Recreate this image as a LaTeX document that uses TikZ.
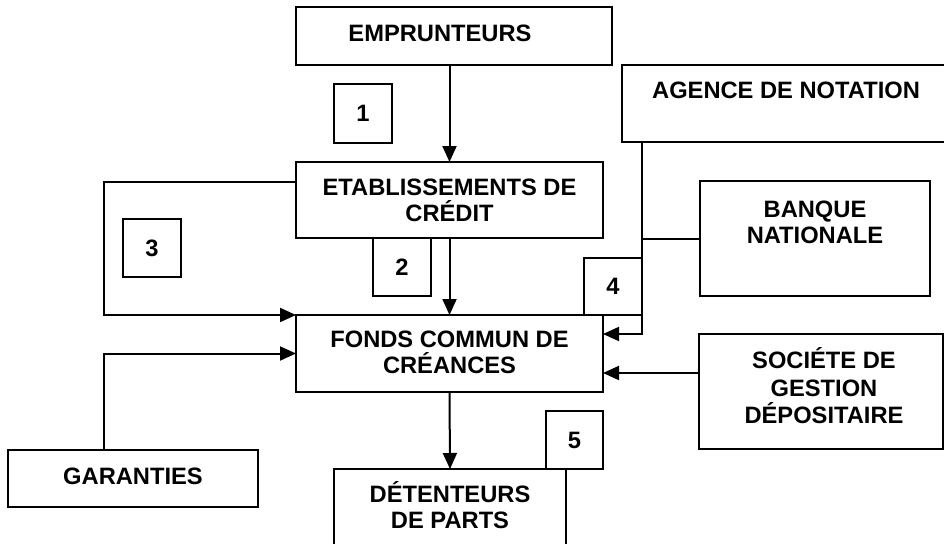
\documentclass[tikz,border=0pt]{standalone}
\usepackage{fontspec}
\setmainfont{Liberation Sans}
\usetikzlibrary{arrows.meta}
\begin{document}
\begin{tikzpicture}[x=1pt,y=-1pt,
  box/.style={draw, line width=2pt, outer sep=0pt, inner sep=0pt, anchor=north west},
  txt/.style={font=\fontsize{23.7}{26}\selectfont\bfseries, align=center, anchor=base, inner sep=0pt},
  num/.style={box, font=\fontsize{23.7}{26}\selectfont\bfseries},
  arr/.style={line width=2pt, -{Triangle[length=16pt,width=14pt]}},
  ln/.style={line width=2pt}]
\clip (0,0) rectangle (944,543);
% boxes (text anchored on the baseline of its last line)
\node[box, minimum width=316pt, minimum height=58pt] (emp) at (296,7) {};
\node[txt] (empt) at (440,41.5) {EMPRUNTEURS};
\node[box, minimum width=307pt, minimum height=76pt] (etab) at (296,162) {};
\node[txt] (etabt) at (449.5,221.5) {ETABLISSEMENTS DE\\CRÉDIT};
\node[box, minimum width=307pt, minimum height=77pt] (fonds) at (296,315) {};
\node[txt] (fondst) at (449.5,373.5) {FONDS COMMUN DE\\CRÉANCES};
\node[box, minimum width=340pt, minimum height=77pt] (age) at (622,65) {};
\node[txt] (aget) at (786,98.5) {AGENCE DE NOTATION};
\node[box, minimum width=230pt, minimum height=115pt] (ban) at (700,181) {};
\node[txt] (bant) at (815,243.5) {BANQUE\\NATIONALE};
\node[box, minimum width=244pt, minimum height=115pt] (soc) at (699,334) {};
\node[txt, font=\fontsize{23.7}{27.5}\selectfont\bfseries] (soct) at (824,423.5) {SOCIÉTE DE\\GESTION\\DÉPOSITAIRE};
\node[box, minimum width=250pt, minimum height=57pt] (gar) at (8,450) {};
\node[txt] (gart) at (133,484.5) {GARANTIES};
\node[box, minimum width=232pt, minimum height=100pt] (det) at (334,469) {};
\node[txt] (dett) at (450,528.5) {DÉTENTEURS\\DE PARTS};
% numbered boxes
\node[num, minimum width=58pt, minimum height=59pt] (n1) at (334,84) {1};
\node[num, minimum width=58pt, minimum height=58pt] (n2) at (373,238) {2};
\node[num, minimum width=58pt, minimum height=58pt] (n3) at (123,219) {3};
\node[num, minimum width=58pt, minimum height=57pt] (n4) at (584,258) {4};
\node[num, minimum width=57pt, minimum height=58pt] (n5) at (546,411) {5};
% helper coordinates
\coordinate (gx) at (104,0);
\coordinate (j4) at (642,334);
\coordinate (sj) at (699,373);
% connectors
\draw[arr] (etab.north |- emp.south) -- (etab.north);
\draw[arr] (etab.south) -- (fonds.north);
\draw[arr] (fonds.south) -- (det.north);
\draw[arr] ([yshift=-20pt]etab.north west) -- ++(-192,0) |- (fonds.north west);
\draw[arr] (gar.north -| gx) |- (fonds.west);
\draw[arr] (age.south -| j4) -- (j4) -- (fonds.east |- j4);
\draw[ln] (ban.west) -- (ban.west -| j4);
\draw[arr] (soc.west |- sj) -- (fonds.east |- sj);
\end{tikzpicture}
\end{document}
